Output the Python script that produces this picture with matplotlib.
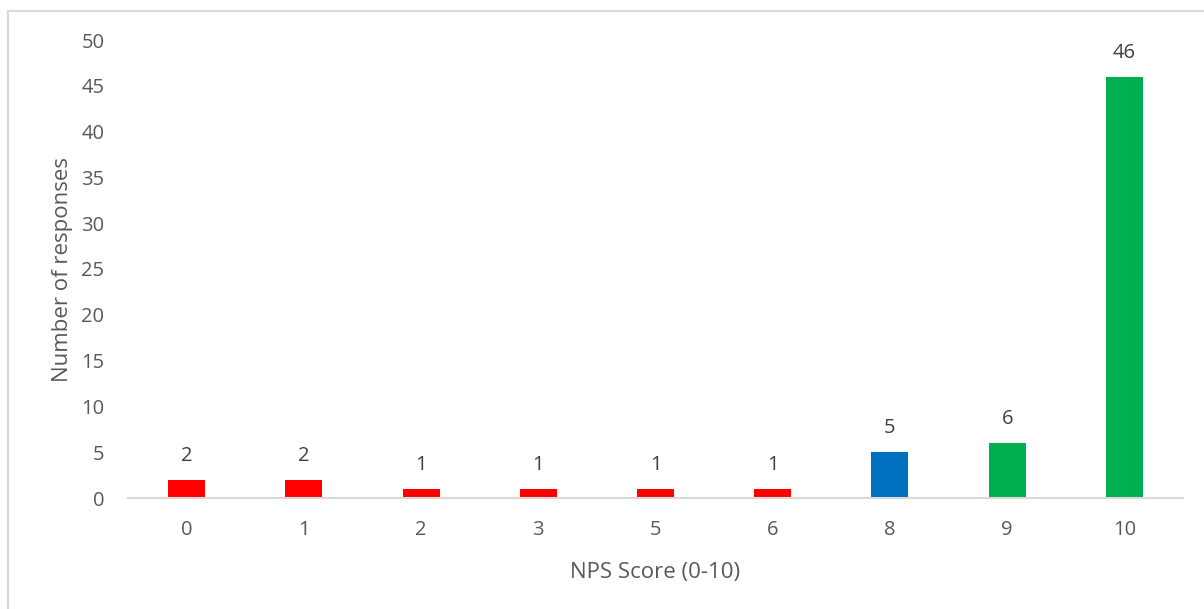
import matplotlib.pyplot as plt
from matplotlib.patches import Rectangle

scores = ["0", "1", "2", "3", "5", "6", "8", "9", "10"]
responses = [2, 2, 1, 1, 1, 1, 5, 6, 46]
bar_colors = ["#FF0000"] * 6 + ["#0070C0"] + ["#00B050"] * 2

plt.rcParams['font.family'] = ['Open Sans', 'DejaVu Sans']

fig = plt.figure(figsize=(12.04, 6.09), dpi=100)
W, H = 1204, 609

# outer chart frame
fig.patches.append(Rectangle((8 / W, -0.1), 1.2, (H - 11) / H + 0.1,
                             transform=fig.transFigure, fill=False,
                             edgecolor="#D9D9D9", linewidth=1.5))

ax = fig.add_axes([128 / W, 111 / H, (1183 - 128) / W, (498 - 40) / H])
x = range(len(scores))
bars = ax.bar(x, responses, width=0.316, color=bar_colors)

for b, v in zip(bars, responses):
    ax.annotate(str(v), (b.get_x() + b.get_width() / 2, v),
                xytext=(0, 10), textcoords="offset points",
                ha="center", va="bottom", fontsize=14.5, color="#404040")

ax.set_xlim(-0.5, len(scores) - 0.5)
ax.set_ylim(0, 50)
ax.set_yticks(range(0, 51, 5))
ax.set_xticks(list(x))
ax.set_xticklabels(scores)
ax.tick_params(axis="both", length=0, labelsize=14.5, labelcolor="#595959")
ax.tick_params(axis="x", pad=16)
ax.tick_params(axis="y", pad=17)

for s in ["left", "right", "top"]:
    ax.spines[s].set_visible(False)
ax.spines["bottom"].set_color("#D9D9D9")
ax.spines["bottom"].set_linewidth(1.5)

ax.set_xlabel("NPS Score (0-10)", fontsize=16, color="#595959", labelpad=16)
ax.set_ylabel("Number of responses", fontsize=16, color="#595959", labelpad=6)

plt.savefig("out.png", dpi=100)
